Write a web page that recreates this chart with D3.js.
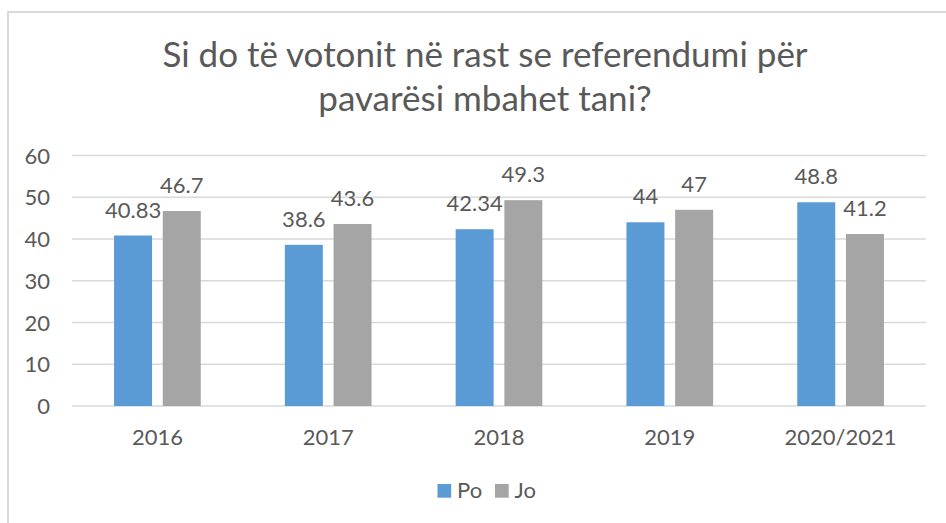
<!DOCTYPE html>
<html>
<head>
<meta charset="utf-8">
<script src="https://cdn.jsdelivr.net/npm/d3@7"></script>
<style>
  html, body { margin: 0; padding: 0; background: #fff; }
  svg { display: block; }
  text { font-family: Lato, "Open Sans", sans-serif; fill: #595959; }
</style>
</head>
<body>
<svg id="chart" width="946" height="523"></svg>
<script>
const titleLines = ["Si do të votonit në rast se referendumi për", "pavarësi mbahet tani?"];
const categories = ["2016", "2017", "2018", "2019", "2020/2021"];
const seriesNames = ["Po", "Jo"];
const poValues = [40.83, 38.6, 42.34, 44, 48.8];
const joValues = [46.7, 43.6, 49.3, 47, 41.2];
const yTicks = [0, 10, 20, 30, 40, 50, 60];
const colors = { Po: "#5B9BD5", Jo: "#A5A5A5" };

const svg = d3.select("#chart");

// chart border (only left and top visible in frame)
svg.append("rect")
  .attr("x", 8).attr("y", 12)
  .attr("width", 1000).attr("height", 600)
  .attr("fill", "none").attr("stroke", "#d9d9d9").attr("stroke-width", 2);

// title
const title = svg.append("text")
  .attr("text-anchor", "middle")
  .style("font-size", "35px");
titleLines.forEach((t, i) => {
  title.append("tspan").attr("x", 485).attr("y", 66.5 + i * 44).text(t);
});

const plotLeft = 72, plotRight = 926;
const y = d3.scaleLinear().domain([0, 60]).range([406, 155.5]);
const x0 = d3.scaleBand().domain(categories).range([plotLeft, plotRight])
  .paddingInner(0.4924).paddingOuter(0.2462);
const x1 = d3.scaleBand().domain(seriesNames).range([0, x0.bandwidth()]).paddingInner(0.22);

// gridlines
svg.append("g").selectAll("line").data(yTicks).join("line")
  .attr("x1", plotLeft).attr("x2", plotRight)
  .attr("y1", d => y(d)).attr("y2", d => y(d))
  .attr("stroke", "#d9d9d9").attr("stroke-width", 1.5);

// y axis labels
const yAxis = svg.append("g").attr("transform", `translate(${plotLeft - 22},0)`)
  .call(d3.axisLeft(y).tickValues(yTicks).tickSize(0).tickPadding(0));
yAxis.select(".domain").remove();
yAxis.selectAll("text").style("font-size", "22px").attr("fill", "#595959").attr("dy", "0.35em");

// x axis labels
const xAxis = svg.append("g").attr("transform", `translate(0,${y(0)})`)
  .call(d3.axisBottom(x0).tickSize(0).tickPadding(0));
xAxis.select(".domain").remove();
xAxis.selectAll("text").style("font-size", "22px").attr("fill", "#595959")
  .attr("y", 0).attr("dy", 0).attr("transform", "translate(0,39)");

// data
const rows = categories.map((c, i) => ({ cat: c, Po: poValues[i], Jo: joValues[i] }));
const groups = svg.append("g").selectAll("g").data(rows).join("g")
  .attr("transform", d => `translate(${x0(d.cat)},0)`);
groups.selectAll("rect").data(d => seriesNames.map(s => ({ s, v: d[s] }))).join("rect")
  .attr("x", d => x1(d.s)).attr("width", x1.bandwidth())
  .attr("y", d => y(d.v)).attr("height", d => y(0) - y(d.v))
  .attr("fill", d => colors[d.s]);
groups.selectAll("text.lbl").data(d => seriesNames.map(s => ({ s, v: d[s] }))).join("text")
  .attr("class", "lbl")
  .attr("text-anchor", "middle")
  .attr("x", d => x1(d.s) + x1.bandwidth() / 2)
  .attr("y", d => y(d.v) - 18)
  .style("font-size", "22px")
  .text(d => String(d.v));

// legend
const legendItems = [{ s: "Po", x: 437.5 }, { s: "Jo", x: 495 }];
const lg = svg.append("g").selectAll("g").data(legendItems).join("g")
  .attr("transform", d => `translate(${d.x},484)`);
lg.append("rect").attr("width", 13.7).attr("height", 13.7).attr("fill", d => colors[d.s]);
lg.append("text").attr("x", 19.5).attr("y", 14).style("font-size", "22px").text(d => d.s);
</script>
</body>
</html>
